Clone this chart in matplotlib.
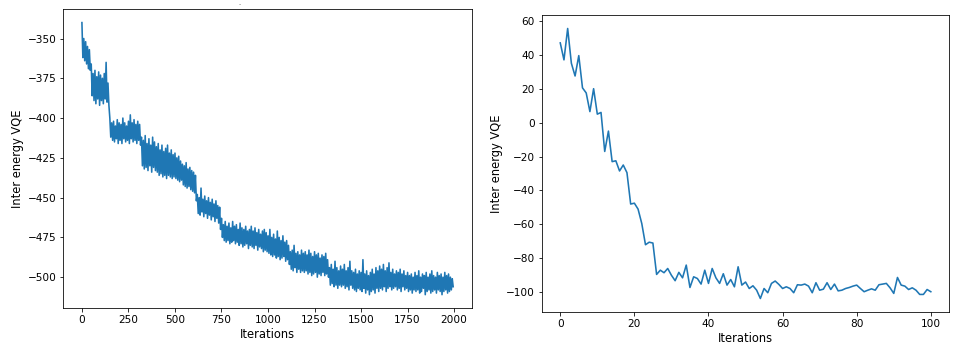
import numpy as np
import matplotlib
matplotlib.use("Agg")
import matplotlib.pyplot as plt

# Left chart: long VQE run, values read every 5 iterations (upper/lower of the noisy band)
left_step = 5
left_energy = [
    -340, -362, -350, -364, -352, -366, -355, -369, -357, -370,
    -366, -386, -372, -389, -370, -391, -374, -388, -371, -392,
    -373, -389, -375, -391, -372, -388, -365, -390, -378, -392,
    -400, -412, -403, -414, -402, -415, -405, -413, -401, -416,
    -403, -414, -404, -416, -400, -413, -403, -415, -405, -414,
    -402, -416, -398, -413, -403, -415, -401, -414, -404, -416,
    -402, -414, -404, -417, -412, -430, -414, -432, -411, -431,
    -416, -433, -413, -430, -417, -434, -412, -431, -415, -433,
    -418, -434, -416, -436, -420, -435, -417, -437, -421, -436,
    -419, -438, -417, -436, -422, -437, -420, -438, -423, -437,
    -422, -438, -425, -439, -424, -440, -427, -439, -429, -442,
    -430, -443, -428, -444, -432, -443, -431, -445, -433, -446,
    -434, -447, -436, -452, -448, -460, -450, -461, -444, -459,
    -451, -462, -449, -460, -452, -463, -450, -461, -453, -464,
    -451, -462, -454, -465, -452, -463, -455, -466, -456, -470,
    -463, -475, -467, -477, -465, -478, -468, -477, -466, -479,
    -469, -478, -465, -477, -468, -479, -467, -478, -470, -480,
    -466, -479, -469, -481, -470, -480, -468, -479, -471, -482,
    -470, -480, -468, -481, -471, -482, -469, -480, -472, -483,
    -470, -481, -473, -482, -471, -484, -470, -483, -472, -484,
    -474, -485, -470, -486, -475, -487, -473, -486, -476, -488,
    -471, -487, -475, -489, -477, -488, -474, -487, -478, -490,
    -477, -489, -480, -492, -484, -495, -483, -496, -480, -494,
    -485, -497, -484, -495, -486, -497, -483, -496, -485, -497,
    -484, -496, -486, -498, -483, -497, -485, -499, -487, -498,
    -484, -497, -486, -500, -485, -498, -488, -499, -486, -497,
    -487, -499, -485, -498, -489, -500, -494, -505, -492, -504,
    -495, -506, -490, -505, -494, -507, -496, -505, -493, -506,
    -495, -505, -492, -507, -496, -506, -494, -508, -490, -505,
    -496, -507, -497, -508, -495, -509, -498, -507, -496, -508,
    -497, -509, -489, -507, -498, -510, -496, -508, -499, -511,
    -497, -509, -495, -508, -498, -510, -494, -507, -496, -509,
    -493, -507, -495, -508, -492, -506, -496, -509, -494, -507,
    -491, -506, -497, -508, -495, -507, -498, -506, -496, -508,
    -497, -507, -495, -509, -498, -506, -496, -508, -499, -507,
    -497, -509, -499, -508, -498, -510, -500, -508, -497, -509,
    -499, -508, -496, -510, -500, -509, -498, -507, -499, -511,
    -497, -509, -500, -508, -498, -510, -496, -509, -499, -508,
    -500, -510, -497, -508, -499, -509, -498, -511, -500, -509,
    -497, -508, -499, -510, -498, -509, -500, -508, -501, -506,
]
left_iterations = np.arange(len(left_energy)) * left_step

# Right chart: short VQE run, one value per iteration
right_energy = [
    47, 37, 55.5, 35, 27.5, 39.5, 20.5, 17.5, 6.5, 20,
    5, 6, -17, -5, -23, -22.5, -28.5, -25, -29.5, -48,
    -47.5, -51, -59.5, -72, -70.5, -71, -89.5, -87, -88.5, -86,
    -90, -93.2, -88.3, -91.5, -84, -97.2, -90.9, -91.9, -95.2, -87,
    -94.8, -86, -91.5, -94.8, -89.1, -95.8, -92.5, -96.8, -85, -95.8,
    -94, -97.8, -96.2, -98.8, -103.7, -97.8, -100.3, -94.8, -93.4, -95.4,
    -97.8, -96.8, -97.8, -100.3, -95.6, -95.8, -95.2, -96.4, -100.3, -94.4,
    -98.8, -98.2, -94.4, -98.4, -95.2, -99.2, -98.8, -97.8, -97.2, -96.4,
    -95.8, -97.8, -99.7, -98.8, -98, -98.8, -95.6, -95.2, -94.8, -97.4,
    -100.7, -91.3, -95.8, -96.4, -98.4, -97.4, -98.8, -101.3, -101.3, -98.4,
    -99.7,
]
right_iterations = np.arange(len(right_energy))

xlabel = "Iterations"
ylabel = "Inter energy VQE"
line_color = "#1f77b4"

DPI = 72
plt.rcParams["xtick.labelsize"] = 10.5
plt.rcParams["ytick.labelsize"] = 10.5
plt.rcParams["axes.labelsize"] = 11.5

fig = plt.figure(figsize=(960 / DPI, 351 / DPI), dpi=DPI)
ax1 = fig.add_axes([0.066, 0.1217, 0.4254, 0.8527])
ax2 = fig.add_axes([0.5643, 0.1111, 0.4246, 0.8462])

ax1.plot(left_iterations, left_energy, color=line_color, lw=1.6)
ax1.set_xlabel(xlabel, labelpad=3)
ax1.set_ylabel(ylabel, labelpad=3)
ax1.set_xticks([0, 250, 500, 750, 1000, 1250, 1500, 1750, 2000])
ax1.set_yticks([-350, -375, -400, -425, -450, -475, -500])

ax2.plot(right_iterations, right_energy, color=line_color, lw=1.6)
ax2.set_xlabel(xlabel, labelpad=3)
ax2.set_ylabel(ylabel, labelpad=3)
ax2.set_xticks([0, 20, 40, 60, 80, 100])
ax2.set_yticks([60, 40, 20, 0, -20, -40, -60, -80, -100])

# small stray mark above the left panel in the reference
fig.text(240 / 960, 1 - 7 / 351, "-", fontsize=6, color="#555555",
         ha="center", va="bottom")

fig.savefig("out.png", dpi=DPI)
